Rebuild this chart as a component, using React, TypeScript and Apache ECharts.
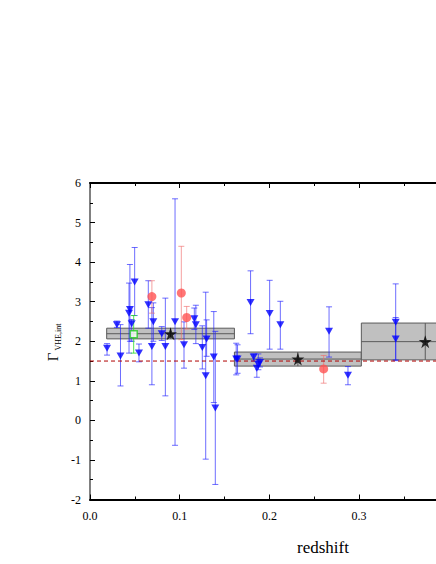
import React, { useEffect, useRef } from "react";
import * as echarts from "echarts";

// Blue down-triangles: [redshift, gamma, lowerErr, upperErr]
const bluePoints: number[][] = [
  [0.019, 1.82, 1.65, 1.94],
  [0.030, 2.42, 2.35, 2.51],
  [0.034, 1.63, 0.87, 2.42],
  [0.0435, 2.71, 1.70, 3.47],
  [0.0445, 2.80, 2.00, 3.94],
  [0.0465, 2.44, 2.00, 2.55],
  [0.0498, 3.50, 2.65, 4.37],
  [0.0546, 1.70, 1.48, 1.93],
  [0.065, 2.92, 2.33, 3.53],
  [0.0706, 2.49, 2.00, 2.97],
  [0.069, 1.87, 0.90, 2.85],
  [0.080, 2.19, 2.02, 2.37],
  [0.084, 1.87, 0.62, 3.09],
  [0.0948, 2.49, -0.63, 5.60],
  [0.1048, 1.91, 1.32, 2.49],
  [0.1163, 2.57, 2.30, 2.84],
  [0.118, 2.42, 1.94, 2.91],
  [0.1252, 1.84, 1.30, 2.39],
  [0.130, 2.06, 1.62, 2.54],
  [0.129, 1.13, -0.98, 3.24],
  [0.138, 1.60, 0.45, 2.75],
  [0.1397, 0.31, -1.62, 2.25],
  [0.163, 1.55, 1.15, 1.95],
  [0.1645, 1.55, 1.19, 1.91],
  [0.179, 2.98, 2.19, 3.78],
  [0.1825, 1.60, 1.50, 1.68],
  [0.186, 1.32, 1.09, 1.53],
  [0.1877, 1.41, 1.28, 1.68],
  [0.1895, 1.46, 1.35, 1.58],
  [0.2003, 2.70, 1.80, 3.54],
  [0.2122, 2.42, 1.80, 3.01],
  [0.2665, 2.25, 1.60, 2.87],
  [0.2876, 1.14, 0.90, 1.36],
  [0.3408, 2.48, 1.51, 3.45],
  [0.3408, 2.06, 1.53, 2.60],
];

// Red circles: [redshift, gamma, lowerErr, upperErr]
const redPoints: number[][] = [
  [0.069, 3.13, 2.71, 3.53],
  [0.1018, 3.22, 2.04, 4.40],
  [0.1078, 2.60, 2.31, 2.88],
  [0.2605, 1.30, 0.94, 1.64],
];

// Green open square
const greenPoints: number[][] = [[0.0487, 2.18, 1.70, 2.65]];

// Binned averages (stars) and their boxes
const binLeft = [0.0186, 0.161, 0.3025];
const binRight = [0.161, 0.3025, 0.445];
const binMean = [2.19, 1.55, 1.99];
const binLow = [2.06, 1.372, 1.53];
const binHigh = [2.33, 1.727, 2.46];

const refLevel = 1.5;
const xTicks = [0, 0.1, 0.2, 0.3, 0.4, 0.5];
const xLabelLimit = 0.3; // labels beyond lie outside the visible window
const yTicks = [-2, -1, 0, 1, 2, 3, 4, 5, 6];

const STAR =
  "path://M12,0 L14.8,8.6 L23.9,8.6 L16.5,13.9 L19.3,22.5 L12,17.2 L4.7,22.5 L7.5,13.9 L0.1,8.6 L9.2,8.6 Z";

const FONT = "Liberation Serif";

function errorBarSeries(data: number[][], color: string, z: number) {
  return {
    type: "custom",
    z,
    silent: true,
    data,
    renderItem: (params: any, api: any) => {
      const x = api.value(0);
      const lo = api.value(2);
      const hi = api.value(3);
      const pLo = api.coord([x, lo]);
      const pHi = api.coord([x, hi]);
      const hw = 3;
      const st = { stroke: color, lineWidth: 1 };
      return {
        type: "group",
        children: [
          { type: "line", shape: { x1: pLo[0], y1: pLo[1], x2: pHi[0], y2: pHi[1] }, style: st },
          { type: "line", shape: { x1: pLo[0] - hw, y1: pLo[1], x2: pLo[0] + hw, y2: pLo[1] }, style: st },
          { type: "line", shape: { x1: pHi[0] - hw, y1: pHi[1], x2: pHi[0] + hw, y2: pHi[1] }, style: st },
        ],
      };
    },
  };
}

export default function App() {
  const ref = useRef<HTMLDivElement>(null);
  useEffect(() => {
    document.body.style.margin = "0";
    const chart = echarts.init(ref.current!, null, { renderer: "svg" });
    const xMin = xTicks[0];
    const xMax = xTicks[xTicks.length - 1];
    const boxData = binLeft.map((l, i) => [l, binRight[i], binLow[i], binMean[i], binHigh[i]]);
    const starData = binLeft.map((l, i) => [(l + binRight[i]) / 2, binMean[i]]);

    chart.setOption({
      animation: false,
      backgroundColor: "#fff",
      grid: {
        left: 90,
        top: 183,
        width: 448.5,
        height: 316.5,
        containLabel: false,
        outerBoundsMode: "none",
      },
      xAxis: [
        {
          type: "value",
          min: xMin,
          max: xMax,
          interval: 0.1,
          position: "bottom",
          axisLine: { show: true, onZero: false, lineStyle: { color: "#000", width: 2 } },
          axisTick: { show: true, inside: true, length: 5, lineStyle: { color: "#000", width: 1 } },
          minorTick: { show: true, splitNumber: 2, length: 3, lineStyle: { color: "#000", width: 1 } },
          axisLabel: {
            margin: 10,
            fontFamily: FONT,
            fontSize: 12,
            color: "#000",
            formatter: (v: number) => (v <= xLabelLimit + 1e-9 ? v.toFixed(1) : ""),
          },
          splitLine: { show: false },
        },
        {
          type: "value",
          min: xMin,
          max: xMax,
          interval: 0.1,
          position: "top",
          axisLine: { show: true, onZero: false, lineStyle: { color: "#000", width: 2 } },
          axisTick: { show: true, inside: true, length: 5, lineStyle: { color: "#000" } },
          minorTick: { show: true, splitNumber: 2, length: 3, lineStyle: { color: "#000" } },
          axisLabel: { show: false },
          splitLine: { show: false },
        },
      ],
      yAxis: [
        {
          type: "value",
          min: yTicks[0],
          max: yTicks[yTicks.length - 1],
          interval: 1,
          axisLine: { show: true, onZero: false, lineStyle: { color: "#808080", width: 2 } },
          axisTick: { show: true, inside: true, length: 5, lineStyle: { color: "#000", width: 1 } },
          minorTick: { show: true, splitNumber: 2, length: 3, lineStyle: { color: "#000", width: 1 } },
          axisLabel: { margin: 9, fontFamily: FONT, fontSize: 12, color: "#000" },
          splitLine: { show: false },
        },
      ],
      graphic: [
        {
          type: "text",
          x: 323,
          y: 547,
          style: {
            text: "redshift",
            fontFamily: FONT,
            fontSize: 17,
            fill: "#000",
            align: "center",
            verticalAlign: "middle",
          },
        },
        {
          type: "text",
          x: 53,
          y: 357,
          rotation: Math.PI / 2,
          style: {
            text: "Γ",
            fontFamily: FONT,
            fontSize: 15,
            fill: "#000",
            align: "center",
            verticalAlign: "middle",
          },
        },
        {
          type: "text",
          x: 58.5,
          y: 337,
          rotation: Math.PI / 2,
          style: {
            text: "VHE,int",
            fontFamily: FONT,
            fontSize: 8,
            fill: "#000",
            align: "center",
            verticalAlign: "middle",
          },
        },
      ],
      series: [
        {
          type: "custom",
          z: 1,
          silent: true,
          data: boxData,
          renderItem: (params: any, api: any) => {
            const x0 = api.value(0);
            const x1 = api.value(1);
            const lo = api.value(2);
            const mid = api.value(3);
            const hi = api.value(4);
            const xc = (x0 + x1) / 2;
            const pTL = api.coord([x0, hi]);
            const pBR = api.coord([x1, lo]);
            const pMidL = api.coord([x0, mid]);
            const pMidR = api.coord([x1, mid]);
            const pCT = api.coord([xc, hi]);
            const pCB = api.coord([xc, lo]);
            const st = { stroke: "#5a5a5a", lineWidth: 1 };
            return {
              type: "group",
              children: [
                {
                  type: "rect",
                  shape: { x: pTL[0], y: pTL[1], width: pBR[0] - pTL[0], height: pBR[1] - pTL[1] },
                  style: { fill: "#c0c0c0", stroke: "#5a5a5a", lineWidth: 1 },
                },
                { type: "line", shape: { x1: pMidL[0], y1: pMidL[1], x2: pMidR[0], y2: pMidR[1] }, style: st },
                { type: "line", shape: { x1: pCT[0], y1: pCT[1], x2: pCB[0], y2: pCB[1] }, style: st },
              ],
            };
          },
        },
        errorBarSeries(bluePoints, "rgba(30,30,255,0.65)", 2),
        errorBarSeries(redPoints, "rgba(240,110,110,0.65)", 2),
        errorBarSeries(greenPoints, "rgba(40,220,40,0.8)", 2),
        {
          type: "line",
          z: 3,
          silent: true,
          data: [
            [xMin, refLevel],
            [xMax, refLevel],
          ],
          symbol: "none",
          lineStyle: { color: "#b00000", width: 1, type: [4, 3] },
        },
        {
          type: "scatter",
          z: 4,
          silent: true,
          data: bluePoints.map((p) => [p[0], p[1]]),
          symbol: "triangle",
          symbolRotate: 180,
          symbolSize: [8, 7],
          itemStyle: { color: "#0000ff" },
        },
        {
          type: "scatter",
          z: 4,
          silent: true,
          data: redPoints.map((p) => [p[0], p[1]]),
          symbol: "circle",
          symbolSize: 9,
          itemStyle: { color: "#ff5252" },
        },
        {
          type: "scatter",
          z: 4,
          silent: true,
          data: greenPoints.map((p) => [p[0], p[1]]),
          symbol: "rect",
          symbolSize: 7,
          itemStyle: { color: "#fff", borderColor: "#22cc22", borderWidth: 1.5 },
        },
        {
          type: "scatter",
          z: 5,
          silent: true,
          data: starData,
          symbol: STAR,
          symbolSize: 13,
          itemStyle: { color: "#000" },
        },
      ],
    });
    return () => chart.dispose();
  }, []);
  return (
    <div
      style={{ position: "absolute", left: 0, top: 0, width: 436, height: 564, overflow: "hidden" }}
    >
      <div ref={ref} style={{ width: 600, height: 564 }} />
    </div>
  );
}
